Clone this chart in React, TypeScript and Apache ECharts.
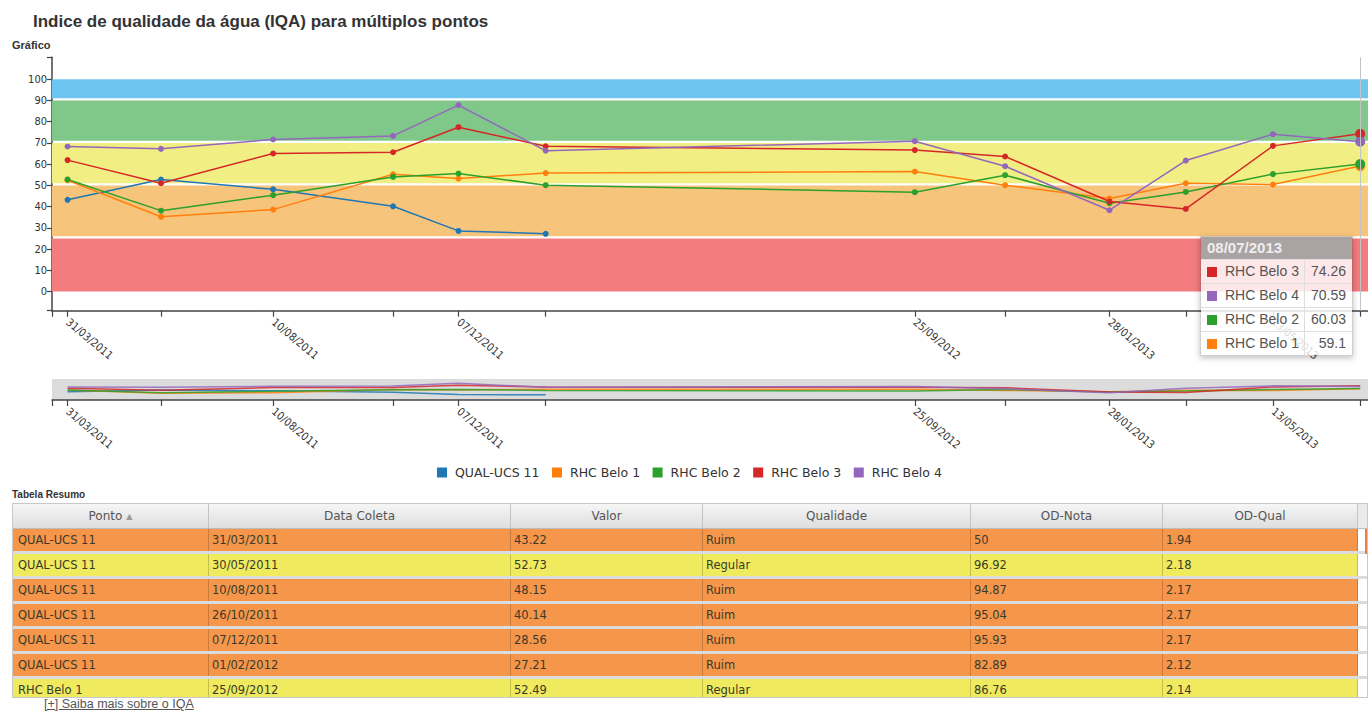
import React, { useEffect, useRef } from "react";
import * as echarts from "echarts";

const FONT = "'DejaVu Sans', Verdana, sans-serif";
const COND_FONT = "'DejaVu Sans Condensed', 'DejaVu Sans', sans-serif";
const ARIAL = "'Liberation Sans', Arial, sans-serif";

const chartTitle = "Indice de qualidade da água (IQA) para múltiplos pontos";
const chartSubtitle = "Gráfico";
const tableTitle = "Tabela Resumo";
const linkText = "[+] Saiba mais sobre o IQA";

// Sampling dates (x axis)
const sampleDates = [
  "31/03/2011", "30/05/2011", "10/08/2011", "26/10/2011", "07/12/2011", "01/02/2012",
  "25/09/2012", "22/11/2012", "28/01/2013", "18/03/2013", "13/05/2013", "08/07/2013",
];
const axisStartDate = "21/03/2011";
const axisEndDate = "13/07/2013";
const labelledDates = ["31/03/2011", "10/08/2011", "07/12/2011", "25/09/2012", "28/01/2013", "13/05/2013"];
const highlightedDate = "08/07/2013";

// Y axis
const yAxisMin = -9;
const yAxisMax = 110.3;
const yTickLabels = [0, 10, 20, 30, 40, 50, 60, 70, 80, 90, 100];

// Series
const seriesNames = ["QUAL-UCS 11", "RHC Belo 1", "RHC Belo 2", "RHC Belo 3", "RHC Belo 4"];
const seriesColors = ["#1f77b4", "#ff7f0e", "#2ca02c", "#d62728", "#9467bd"];
const qualUcs11 = [43.22, 52.73, 48.15, 40.14, 28.56, 27.21, null, null, null, null, null, null];
const rhcBelo1 = [52.4, 35.2, 38.6, 55.2, 53.2, 55.8, 56.5, 50.1, 43.8, 51.0, 50.4, 59.1];
const rhcBelo2 = [52.8, 38.1, 45.4, 54.0, 55.6, 50.1, 46.8, 54.8, 41.6, 46.9, 55.3, 60.03];
const rhcBelo3 = [61.9, 51.0, 65.0, 65.6, 77.4, 68.4, 66.6, 63.6, 42.4, 38.9, 68.6, 74.26];
const rhcBelo4 = [68.3, 67.2, 71.6, 73.3, 87.8, 66.3, 70.8, 59.0, 38.3, 61.7, 74.1, 70.59];
const seriesValues: (number | null)[][] = [qualUcs11, rhcBelo1, rhcBelo2, rhcBelo3, rhcBelo4];

// Quality bands
const bandLower = [0, 26, 51, 71, 91];
const bandUpper = [25, 50, 70, 90, 100];
const bandColors = ["#f27c7e", "#f7c47b", "#f1ee83", "#80c78a", "#6ec5ef"];

// Summary table
const tableColumns = ["Ponto", "Data Coleta", "Valor", "Qualidade", "OD-Nota", "OD-Qual"];
const tablePonto = ["QUAL-UCS 11", "QUAL-UCS 11", "QUAL-UCS 11", "QUAL-UCS 11", "QUAL-UCS 11", "QUAL-UCS 11", "RHC Belo 1"];
const tableDataColeta = ["31/03/2011", "30/05/2011", "10/08/2011", "26/10/2011", "07/12/2011", "01/02/2012", "25/09/2012"];
const tableValor = ["43.22", "52.73", "48.15", "40.14", "28.56", "27.21", "52.49"];
const tableQualidade = ["Ruim", "Regular", "Ruim", "Ruim", "Ruim", "Ruim", "Regular"];
const tableOdNota = ["50", "96.92", "94.87", "95.04", "95.93", "82.89", "86.76"];
const tableOdQual = ["1.94", "2.18", "2.17", "2.17", "2.17", "2.12", "2.14"];
const qualityColors: Record<string, string> = { Ruim: "#f5964a", Regular: "#efea5e" };
const columnWidths = [196, 302, 192, 268, 192, 195];

const toTs = (s: string) => {
  const [d, m, y] = s.split("/").map(Number);
  return Date.UTC(y, m - 1, d);
};
const pad = (n: number) => (n < 10 ? "0" + n : String(n));
const fmtDate = (v: number) => {
  const d = new Date(v);
  return pad(d.getUTCDate()) + "/" + pad(d.getUTCMonth() + 1) + "/" + d.getUTCFullYear();
};

function buildOption() {
  const sampleTs = sampleDates.map(toTs);
  const minTs = toTs(axisStartDate);
  const maxTs = toTs(axisEndDate);
  const tickTs = [minTs, ...sampleTs];
  const labelTs = labelledDates.map(toTs);
  const hiTs = toTs(highlightedDate);
  const lastIdx = sampleTs.length - 1;

  const axisColor = "#444";
  const makeXAxis = (gridIndex: number) => ({
    type: "value",
    gridIndex,
    min: minTs,
    max: maxTs,
    axisLine: { show: true, onZero: false, lineStyle: { color: axisColor, width: 1.5 } },
    axisTick: { show: true, length: 6, customValues: tickTs, lineStyle: { color: axisColor, width: 1.2 } },
    axisLabel: {
      customValues: labelTs,
      rotate: -40,
      margin: 10,
      fontSize: 11,
      color: "#333",
      fontFamily: COND_FONT,
      hideOverlap: false,
      formatter: (v: number) => fmtDate(v),
    },
    splitLine: { show: false },
  });

  const mainSeries = seriesNames.map((name, i) => {
    const data: any[] = [];
    seriesValues[i].forEach((v, j) => {
      if (v == null) return;
      if (j === lastIdx) data.push({ value: [sampleTs[j], v], symbolSize: 10 });
      else data.push([sampleTs[j], v]);
    });
    const s: any = {
      type: "line",
      name,
      xAxisIndex: 0,
      yAxisIndex: 0,
      z: 3,
      data,
      symbol: "circle",
      symbolSize: 6,
      showSymbol: true,
      silent: true,
      lineStyle: { width: 1.5, color: seriesColors[i] },
      itemStyle: { color: seriesColors[i], borderWidth: 0 },
      emphasis: { disabled: true },
    };
    if (i === 3) {
      s.markLine = {
        silent: true,
        symbol: ["none", "none"],
        label: { show: false },
        lineStyle: { color: "#c4c4c4", width: 1, type: "solid" },
        data: [{ xAxis: hiTs }],
      };
    }
    return s;
  });

  const contextSeries = seriesNames.map((name, i) => ({
    type: "line",
    name,
    xAxisIndex: 1,
    yAxisIndex: 1,
    z: 3,
    data: seriesValues[i]
      .map((v, j) => (v == null ? null : [sampleTs[j], v]))
      .filter((p) => p != null),
    showSymbol: false,
    silent: true,
    lineStyle: { width: 1.5, color: seriesColors[i], opacity: 0.85 },
    itemStyle: { color: seriesColors[i] },
    emphasis: { disabled: true },
  }));

  const bandSeries = {
    type: "line",
    name: "faixas",
    xAxisIndex: 0,
    yAxisIndex: 0,
    z: 1,
    silent: true,
    data: rhcBelo1.map((v, j) => [sampleTs[j], v]),
    showSymbol: false,
    lineStyle: { opacity: 0 },
    itemStyle: { opacity: 0 },
    emphasis: { disabled: true },
    markArea: {
      silent: true,
      label: { show: false },
      data: bandLower.map((lo, i) => [
        { yAxis: lo, itemStyle: { color: bandColors[i], opacity: 1 } },
        { yAxis: bandUpper[i] },
      ]),
    },
  };

  return {
    animation: false,
    backgroundColor: "#ffffff",
    title: [
      {
        text: chartTitle,
        left: 28,
        top: 8,
        textStyle: { fontSize: 17, fontWeight: "bold", color: "#333", fontFamily: ARIAL },
      },
      {
        text: chartSubtitle,
        left: 7,
        top: 34,
        textStyle: { fontSize: 11, fontWeight: "bold", color: "#333", fontFamily: ARIAL },
      },
    ],
    legend: {
      data: seriesNames,
      left: 432,
      top: 461,
      icon: "rect",
      itemWidth: 10,
      itemHeight: 10,
      itemGap: 12.5,
      selectedMode: false,
      textStyle: { fontSize: 12.5, color: "#333", fontFamily: FONT, padding: [0, 0, 0, 3] },
    },
    grid: [
      { left: 52, right: 0, top: 57.3, height: 253.4, containLabel: false, outerBoundsMode: "none" },
      {
        left: 52,
        right: 0,
        top: 379,
        height: 21,
        containLabel: false,
        outerBoundsMode: "none",
        show: true,
        backgroundColor: "#dcdcdc",
        borderWidth: 0,
      },
    ],
    xAxis: [makeXAxis(0), makeXAxis(1)],
    yAxis: [
      {
        type: "value",
        gridIndex: 0,
        min: yAxisMin,
        max: yAxisMax,
        axisLine: { show: true, lineStyle: { color: axisColor, width: 1.5 } },
        axisTick: {
          show: true,
          length: 5,
          customValues: [yAxisMin, ...yTickLabels, yAxisMax],
          lineStyle: { color: axisColor, width: 1.2 },
        },
        axisLabel: {
          customValues: yTickLabels,
          fontSize: 11,
          color: "#333",
          margin: 5,
          fontFamily: COND_FONT,
          formatter: (v: number) => String(v),
        },
        splitLine: { show: false },
      },
      {
        type: "value",
        gridIndex: 1,
        min: 0,
        max: 110,
        show: false,
        splitLine: { show: false },
      },
    ],
    series: [bandSeries, ...mainSeries, ...contextSeries],
  };
}

function Tooltip() {
  const lastIdx = sampleDates.length - 1;
  const rows = seriesNames
    .map((name, i) => ({ name, color: seriesColors[i], value: seriesValues[i][lastIdx] }))
    .filter((r) => r.value != null)
    .sort((a, b) => (b.value as number) - (a.value as number));
  return (
    <div
      style={{
        position: "absolute",
        left: 1200,
        top: 236,
        width: 153,
        boxSizing: "border-box",
        border: "1px solid rgba(0,0,0,0.18)",
        boxShadow: "0 2px 6px rgba(0,0,0,0.25)",
        fontFamily: ARIAL,
      }}
    >
      <div
        style={{
          height: 22,
          lineHeight: "22px",
          background: "#a9a3a3",
          color: "#eeeeee",
          fontWeight: "bold",
          fontSize: 15,
          paddingLeft: 6,
        }}
      >
        {highlightedDate}
      </div>
      {rows.map((r) => (
        <div
          key={r.name}
          style={{
            display: "flex",
            height: 24,
            boxSizing: "border-box",
            borderTop: "1px solid #dedede",
            background: "rgba(255,255,255,0.82)",
            color: "#555",
            fontSize: 14,
            lineHeight: "23px",
          }}
        >
          <div style={{ width: 103, paddingLeft: 6, boxSizing: "border-box", whiteSpace: "nowrap" }}>
            <span
              style={{
                display: "inline-block",
                width: 10,
                height: 10,
                background: r.color,
                marginRight: 8,
                verticalAlign: "-1px",
              }}
            />
            {r.name}
          </div>
          <div
            style={{
              flex: 1,
              borderLeft: "1px solid #dedede",
              textAlign: "right",
              paddingRight: 6,
            }}
          >
            {String(r.value)}
          </div>
        </div>
      ))}
    </div>
  );
}

function SummaryTable() {
  const rows = tablePonto.map((p, i) => [
    p,
    tableDataColeta[i],
    tableValor[i],
    tableQualidade[i],
    tableOdNota[i],
    tableOdQual[i],
  ]);
  return (
    <div
      style={{
        position: "absolute",
        left: 12,
        top: 503,
        width: 1356,
        height: 195,
        boxSizing: "border-box",
        border: "1px solid #c8c8c8",
        overflow: "hidden",
        background: "#fff",
        fontFamily: FONT,
      }}
    >
      <div
        style={{
          display: "flex",
          height: 25,
          boxSizing: "border-box",
          borderBottom: "1px solid #bdbdbd",
          background: "linear-gradient(#f6f6f6, #dedede)",
          color: "#555",
          fontSize: 12,
          lineHeight: "24px",
        }}
      >
        {tableColumns.map((c, i) => (
          <div
            key={c}
            style={{
              width: columnWidths[i],
              textAlign: "center",
              borderRight: "1px solid #c4c4c4",
              boxSizing: "border-box",
            }}
          >
            {c}
            {i === 0 ? <span style={{ fontSize: 8, color: "#999", marginLeft: 4, verticalAlign: "1px" }}>▲</span> : null}
          </div>
        ))}
        <div style={{ flex: 1, background: "#eaeaea" }} />
      </div>
      <div style={{ position: "relative" }}>
        {rows.map((r, ri) => (
          <div
            key={ri}
            style={{
              display: "flex",
              height: 22,
              borderBottom: "3px solid #dcdcdc",
              color: "#3a3a2a",
              fontSize: 11.5,
              lineHeight: "22px",
            }}
          >
            {r.map((cell, ci) => (
              <div
                key={ci}
                style={{
                  width: columnWidths[ci],
                  boxSizing: "border-box",
                  paddingLeft: ci === 0 ? 5 : 3,
                  background: qualityColors[tableQualidade[ri]],
                  borderRight: "1px solid rgba(0,0,0,0.18)",
                  whiteSpace: "nowrap",
                  overflow: "hidden",
                }}
              >
                {cell}
              </div>
            ))}
            <div style={{ flex: 1, background: "#fff", position: "relative" }}>
              {ri === 0 ? (
                <div style={{ position: "absolute", right: 0, top: 0, width: 2, height: 40, background: "#ef7a4a" }} />
              ) : null}
            </div>
          </div>
        ))}
      </div>
    </div>
  );
}

export default function App() {
  const ref = useRef<HTMLDivElement>(null);
  useEffect(() => {
    if (!ref.current) return;
    const chart = echarts.init(ref.current, null, { renderer: "svg" });
    chart.setOption(buildOption() as any);
    return () => chart.dispose();
  }, []);
  return (
    <div
      style={{
        position: "fixed",
        left: 0,
        top: 0,
        width: 1368,
        height: 711,
        overflow: "hidden",
        background: "#fff",
        fontFamily: FONT,
      }}
    >
      <div ref={ref} style={{ position: "absolute", left: 0, top: 0, width: 1368, height: 490 }} />
      <Tooltip />
      <div
        style={{
          position: "absolute",
          left: 12,
          top: 489,
          fontFamily: ARIAL,
          fontWeight: "bold",
          fontSize: 10,
          color: "#333",
        }}
      >
        {tableTitle}
      </div>
      <SummaryTable />
      <div
        style={{
          position: "absolute",
          left: 44,
          top: 697,
          fontFamily: ARIAL,
          fontSize: 12.5,
          color: "#555",
          textDecoration: "underline",
          lineHeight: "14px",
        }}
      >
        {linkText}
      </div>
    </div>
  );
}
